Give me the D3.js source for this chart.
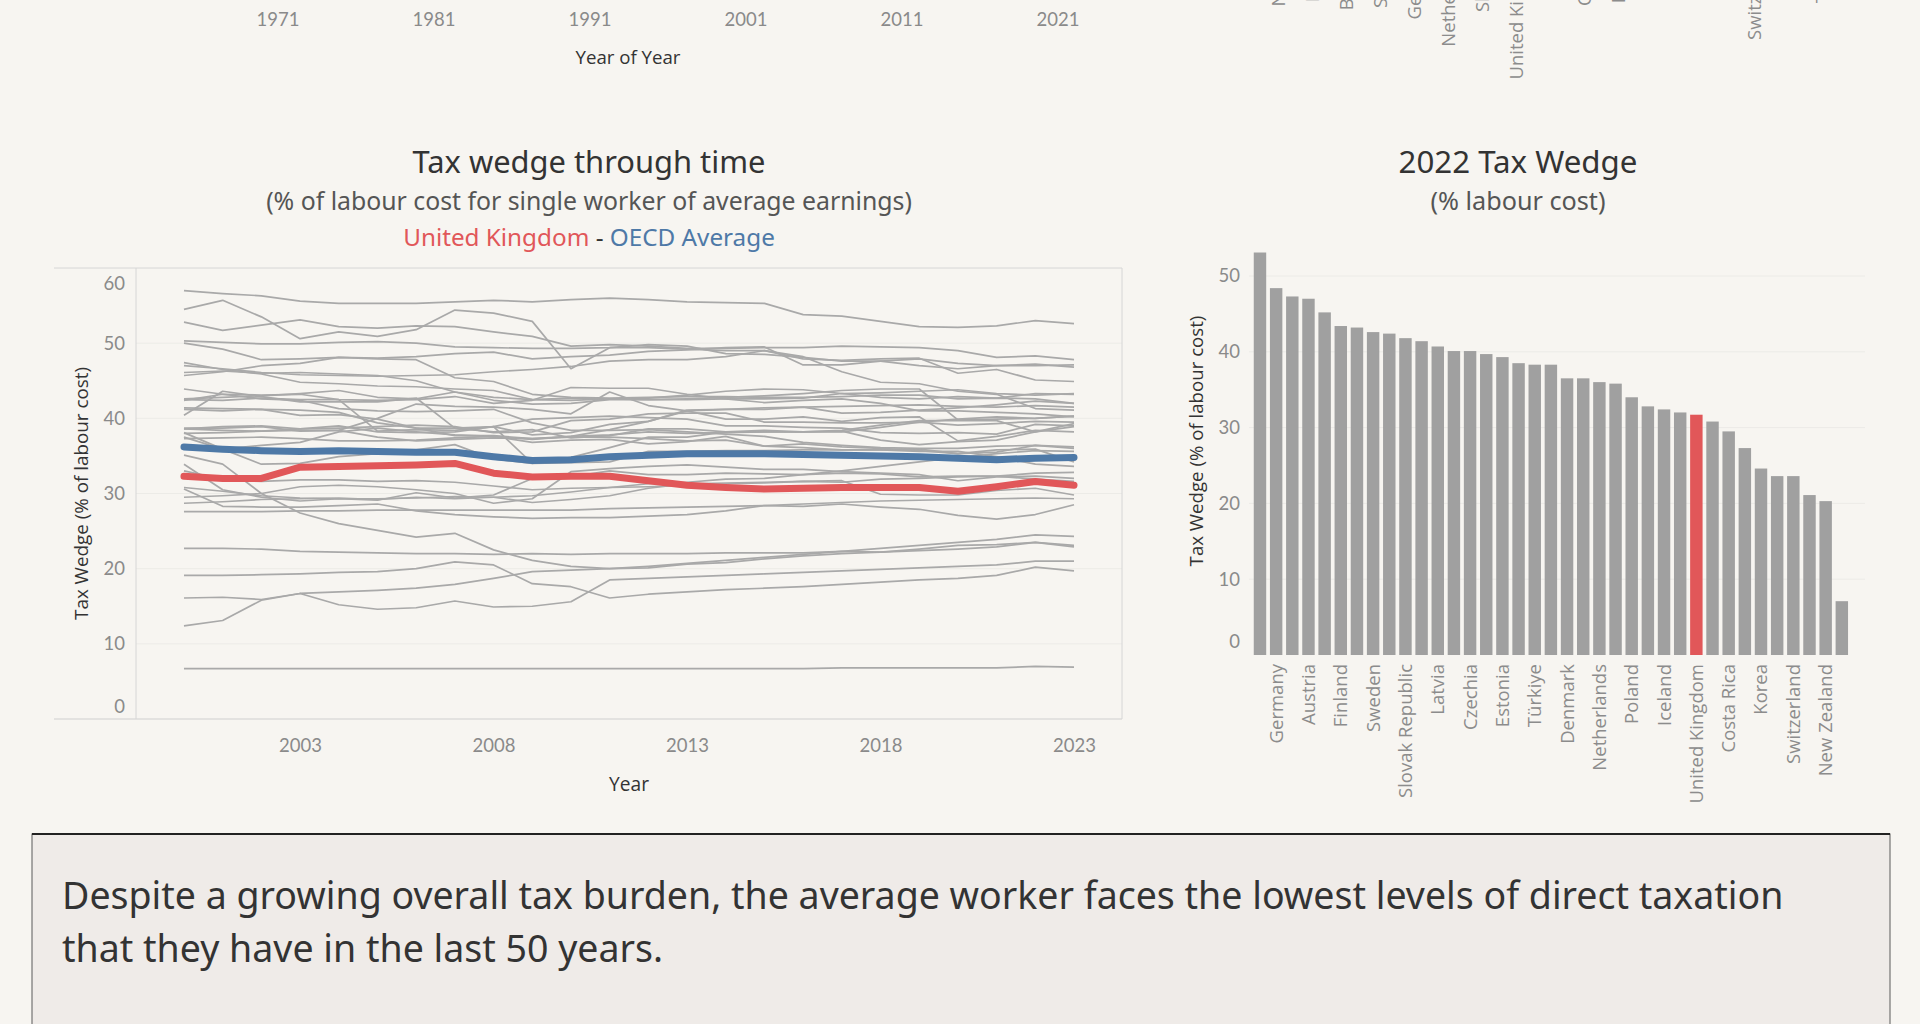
<!DOCTYPE html>
<html><head><meta charset="utf-8">
<script src="https://cdn.jsdelivr.net/npm/d3@7/dist/d3.min.js"></script>
<style>
html,body{margin:0;padding:0;background:#f7f5f1;}
svg{display:block;}
</style></head>
<body>
<svg id="c" width="1920" height="1024"></svg>
<script>
// ---------------- DATA ----------------
const years = [2000,2001,2002,2003,2004,2005,2006,2007,2008,2009,2010,2011,2012,2013,2014,2015,2016,2017,2018,2019,2020,2021,2022,2023];
const yearTicks = [2003,2008,2013,2018,2023];
const valueTicks = [0,10,20,30,40,50,60];
const barTicks = [0,10,20,30,40,50];

const ukSeries = [32.3,32.0,32.0,33.5,33.6,33.7,33.8,34.0,32.7,32.2,32.3,32.3,31.7,31.1,30.8,30.6,30.7,30.8,30.8,30.8,30.3,30.9,31.6,31.1];
const oecdSeries = [36.2,35.9,35.7,35.6,35.7,35.6,35.5,35.5,34.9,34.4,34.5,34.9,35.1,35.3,35.3,35.3,35.2,35.1,35.0,34.9,34.7,34.5,34.7,34.8];

const greyCountries = ["Belgium","Hungary","Germany","France","Sweden","Austria","Italy","Finland","Slovenia","Denmark","Slovak Republic","Latvia","Czechia","Estonia","Lithuania","Türkiye","Spain","Greece","Norway","Netherlands","Poland","Portugal","Luxembourg","Japan","Israel","Ireland","Canada","United States","Australia","Iceland","Costa Rica","Switzerland","Korea","Mexico","New Zealand","Chile"];
const greySeries = [
 [57.0,56.6,56.3,55.6,55.3,55.3,55.3,55.5,55.7,55.5,55.8,56.0,55.8,55.5,55.4,55.3,53.8,53.6,52.9,52.2,52.1,52.3,53.0,52.6],
 [54.5,55.7,53.5,50.6,51.5,50.9,51.8,54.4,54.0,52.9,46.6,49.4,49.4,49.2,49.0,49.0,48.2,46.2,44.8,44.6,43.6,43.2,41.3,41.1],
 [52.8,51.7,52.4,53.1,52.2,52.0,52.3,52.2,51.5,50.9,49.6,49.8,49.6,49.3,49.3,49.4,49.4,49.6,49.5,49.4,49.0,48.1,48.3,47.8],
 [50.3,50.1,49.9,49.9,50.1,50.2,50.0,49.5,49.4,49.3,49.3,49.4,49.8,49.6,48.6,48.5,48.1,47.6,47.6,47.0,46.6,47.0,47.2,46.8],
 [50.0,49.2,47.8,47.9,48.1,47.9,47.8,45.4,44.9,43.2,42.8,42.7,42.8,42.9,42.9,42.8,42.8,42.9,43.1,43.1,42.6,42.7,42.6,42.0],
 [45.7,46.2,47.0,47.3,48.1,48.0,48.2,48.6,48.8,47.9,48.2,48.4,48.9,49.1,49.4,49.5,47.1,47.1,47.6,47.9,47.3,47.0,47.0,47.1],
 [47.0,46.6,46.1,45.8,45.7,45.6,45.7,45.8,46.2,46.5,46.9,47.6,47.8,47.8,48.2,49.0,47.9,47.7,47.9,48.0,46.0,46.5,45.1,44.9],
 [47.4,46.5,45.9,44.8,44.6,44.3,44.2,43.9,43.7,42.5,42.4,42.6,42.7,43.1,43.6,43.9,43.8,43.3,42.8,42.6,42.9,42.7,43.3,43.2],
 [46.1,46.3,46.0,46.1,45.9,45.7,45.0,43.5,42.8,42.5,42.7,42.6,42.5,42.5,42.6,42.6,42.7,43.3,43.4,43.6,43.8,43.3,43.1,43.3],
 [43.9,43.2,42.6,42.4,41.3,41.0,40.9,41.0,41.2,39.4,38.4,38.4,38.5,38.2,37.9,37.6,36.8,36.4,36.1,36.0,36.0,36.3,36.4,36.0],
 [42.5,42.4,42.7,42.5,42.5,38.3,38.5,38.4,38.9,37.8,38.1,39.2,39.6,41.0,41.2,41.4,41.5,41.6,41.7,41.8,41.6,41.5,41.7,41.5],
 [42.4,43.2,43.1,43.2,42.5,42.4,42.5,42.9,42.0,42.4,44.1,44.0,44.0,43.2,42.6,42.1,42.4,42.6,42.0,41.0,41.0,40.8,40.6,40.2],
 [42.6,42.8,43.0,43.3,43.7,42.8,42.6,43.5,42.4,41.9,42.0,42.5,42.5,42.6,42.8,43.0,43.3,43.7,43.9,43.9,39.8,39.9,40.0,40.3],
 [41.4,41.3,41.2,41.1,40.8,39.4,38.7,38.7,38.9,39.9,40.1,40.3,40.1,39.9,39.0,39.0,38.8,38.7,38.1,38.0,38.1,37.9,39.2,39.0],
 [41.2,41.0,41.2,40.4,40.5,39.9,38.7,37.7,37.7,37.3,37.6,37.8,38.2,38.0,38.1,38.2,38.2,38.3,37.1,36.5,36.9,37.1,38.2,38.9],
 [40.4,43.6,42.9,42.2,42.2,42.2,42.7,38.7,38.2,38.5,37.4,37.7,38.6,38.6,38.2,38.2,38.2,38.4,39.1,39.7,39.7,39.7,38.2,39.3],
 [38.6,38.9,39.0,38.6,38.7,38.9,39.1,38.9,38.1,38.2,39.7,39.9,40.6,40.7,40.7,39.5,39.5,39.4,39.4,39.5,39.1,39.3,39.6,39.5],
 [38.7,38.7,38.9,38.3,38.4,40.0,41.9,41.6,41.5,41.2,40.6,43.5,41.7,41.0,39.9,39.9,40.2,39.6,40.1,40.2,37.0,37.6,38.4,38.2],
 [38.6,38.4,38.3,38.4,38.4,37.5,37.0,37.2,37.4,37.3,37.5,37.5,37.3,37.0,37.1,36.3,36.1,35.8,35.8,35.9,35.3,35.5,36.4,36.2],
 [38.1,35.9,36.4,36.8,38.2,38.7,38.2,37.8,37.6,36.8,37.1,37.2,36.6,36.9,37.6,36.3,36.6,36.2,36.0,35.7,35.3,35.8,35.9,34.2],
 [38.0,38.1,38.3,38.6,39.0,38.2,38.1,38.2,38.9,34.0,34.1,34.2,35.6,35.6,35.7,35.7,35.8,35.8,35.8,35.6,35.6,34.9,33.9,33.6],
 [37.3,37.4,37.5,37.3,37.0,37.0,37.1,37.4,37.6,37.2,37.6,38.5,39.6,41.1,41.2,41.2,41.5,40.7,40.8,41.1,41.4,41.8,42.3,42.0],
 [37.5,35.9,33.9,34.0,34.9,35.3,35.8,36.5,34.6,34.0,34.8,36.1,37.5,37.5,38.2,38.4,38.2,38.2,38.8,39.5,39.9,40.2,40.0,40.3],
 [28.7,28.9,29.2,29.3,29.4,29.2,29.5,29.3,29.5,29.7,30.2,30.8,31.3,31.5,31.9,32.0,32.5,33.0,33.6,34.2,34.8,35.3,35.7,35.6],
 [35.1,33.9,30.0,27.4,26.0,25.1,24.2,24.7,22.5,21.1,20.3,20.0,20.1,20.6,20.8,21.3,21.7,22.0,22.2,22.4,22.6,22.9,23.5,23.1],
 [33.9,30.5,29.5,29.0,29.3,29.1,30.1,29.4,29.8,32.0,32.2,33.0,32.5,32.5,32.7,32.6,32.5,32.7,32.6,32.2,32.3,32.3,31.9,31.6],
 [33.0,31.9,31.6,31.8,31.8,31.6,31.7,31.5,31.0,30.5,30.7,30.8,30.9,31.1,31.3,31.4,31.6,31.5,31.9,32.0,32.2,32.3,32.7,32.8],
 [30.8,30.3,29.7,29.4,29.3,29.3,29.4,29.6,29.5,28.8,29.2,29.7,30.7,31.3,31.4,31.5,31.6,31.7,29.9,29.8,29.8,30.4,30.7,29.8],
 [30.6,28.3,28.2,28.2,28.4,28.6,27.7,27.2,26.9,26.7,26.8,26.8,27.0,27.2,27.7,28.4,28.3,28.6,28.2,27.9,27.1,26.6,27.2,28.5],
 [29.5,29.7,30.0,30.9,31.1,30.9,30.5,30.0,28.7,29.3,32.9,33.3,33.6,33.8,33.5,33.2,33.2,32.9,32.7,32.5,31.7,32.2,32.3,32.0],
 [27.6,27.6,27.6,27.7,27.7,27.8,27.8,27.8,27.8,27.8,27.8,28.0,28.1,28.2,28.3,28.4,28.6,28.8,29.0,29.1,29.2,29.3,29.4,29.3],
 [22.7,22.7,22.6,22.3,22.2,22.1,22.0,22.0,21.9,22.0,21.9,22.0,22.0,22.0,22.1,22.1,22.1,22.3,22.2,22.6,23.1,23.2,23.5,22.9],
 [12.4,13.1,15.8,16.7,16.9,17.1,17.4,17.9,18.7,19.6,19.8,20.0,20.3,20.7,21.1,21.5,21.9,22.3,22.7,23.1,23.5,23.9,24.5,24.3],
 [16.1,16.2,15.9,16.7,15.2,14.6,14.8,15.7,14.9,15.0,15.6,18.5,18.7,18.9,19.1,19.3,19.5,19.7,19.9,20.1,20.3,20.5,21.0,21.0],
 [19.1,19.1,19.2,19.3,19.5,19.6,20.0,20.9,20.5,18.0,17.6,16.1,16.6,16.9,17.2,17.4,17.6,17.9,18.2,18.5,18.7,19.1,20.2,19.7],
 [6.7,6.7,6.7,6.7,6.7,6.7,6.7,6.7,6.7,6.7,6.7,6.7,6.7,6.7,6.7,6.7,6.7,6.8,6.8,6.8,6.8,6.8,7.0,6.9]
];

const barCountries = ["Belgium","Germany","France","Austria","Italy","Finland","Slovenia","Sweden","Portugal","Slovak Republic","Hungary","Latvia","Luxembourg","Czechia","Spain","Estonia","Greece","Türkiye","Lithuania","Denmark","Norway","Netherlands","Japan","Poland","Canada","Iceland","Ireland","United Kingdom","United States","Costa Rica","Australia","Korea","Israel","Switzerland","Mexico","New Zealand","Chile"];
const barValues = [53.1,48.4,47.3,47.0,45.2,43.4,43.2,42.6,42.4,41.8,41.4,40.7,40.1,40.1,39.7,39.3,38.5,38.3,38.3,36.5,36.5,36.0,35.8,34.0,32.8,32.4,32.0,31.7,30.8,29.5,27.3,24.6,23.6,23.6,21.1,20.3,7.1];
const highlight = "United Kingdom";

// remnants of the chart above (clipped at the top of the view)
const prevYearTicks = [1971,1981,1991,2001,2011,2021];
const prevCountries = ["Norway","Iceland","Belgium","Sweden","Germany","Netherlands","Slovenia","United Kingdom","Italy","Czechia","Finland","Spain","Korea","Chile","Switzerland","Japan","Türkiye"];

const COL_RED = "#e15759", COL_BLUE = "#4e79a7", COL_GREY = "#a9a9a9";
const FONT = "'Noto Sans', 'Open Sans', sans-serif";
const TICKFONT = "Lato, 'Open Sans', sans-serif";
const LABFONT = "'Open Sans', 'Noto Sans', sans-serif";

// ---------------- DRAW ----------------
const svg = d3.select("#c");
svg.append("rect").attr("width",1920).attr("height",1024).attr("fill","#f7f5f1");

function fit(sel, target){
  const w = sel.node().getComputedTextLength();
  const fs = parseFloat(sel.attr("font-size"));
  if (w>0) sel.attr("font-size", (fs*target/w).toFixed(2));
  return sel;
}

// --- remnants of upper dashboard row ---
const xPrev = d3.scaleLinear().domain([1971,2021]).range([278,1058]);
svg.append("g").selectAll("text").data(prevYearTicks).join("text")
  .attr("x", d=>xPrev(d)).attr("y", 26).attr("text-anchor","middle")
  .attr("font-family",TICKFONT).attr("font-size",18.5).attr("fill","#8a8a8a").text(d=>d);
fit(svg.append("text").attr("x",628).attr("y",64).attr("text-anchor","middle")
  .attr("font-family",LABFONT).attr("font-size",18).attr("font-weight",500).attr("fill","#333")
  .text("Year of Year"), 105);
const xPrevBand = d3.scalePoint().domain(prevCountries).range([1279,1823]);
svg.append("g").selectAll("text").data(prevCountries).join("text")
  .attr("transform", d=>`translate(${xPrevBand(d)},-60) rotate(-90)`)
  .attr("text-anchor","end").attr("dy","0.35em")
  .attr("font-family",LABFONT).attr("font-size",18.5).attr("fill","#8c8c8c").text(d=>d);

// --- Line chart ---
const L = {left:136, right:1122, top:268, bottom:719, outerLeft:54};
const x = d3.scaleLinear().domain([1998.76, 2024.24]).range([L.left, L.right]);
const y = d3.scaleLinear().domain([0,60]).range([L.bottom, L.top]);

const lc = svg.append("g");
lc.append("g").selectAll("line").data(valueTicks.filter(v=>v>0&&v<60)).join("line")
  .attr("x1",L.left).attr("x2",L.right).attr("y1",d=>y(d)).attr("y2",d=>y(d))
  .attr("stroke","#ecebe7").attr("stroke-width",1);
lc.append("line").attr("x1",L.outerLeft).attr("x2",L.right).attr("y1",L.top).attr("y2",L.top).attr("stroke","#d6d6d6");
lc.append("line").attr("x1",L.outerLeft).attr("x2",L.right).attr("y1",L.bottom).attr("y2",L.bottom).attr("stroke","#cfcfcf");
lc.append("line").attr("x1",L.right).attr("x2",L.right).attr("y1",L.top).attr("y2",L.bottom).attr("stroke","#d6d6d6");
lc.append("line").attr("x1",L.left).attr("x2",L.left).attr("y1",L.top).attr("y2",L.bottom).attr("stroke","#d6d6d6");

const line = d3.line().x((d,i)=>x(years[i])).y(d=>y(d));
lc.append("g").selectAll("path").data(greySeries).join("path")
  .attr("d", line).attr("fill","none").attr("stroke",COL_GREY).attr("stroke-width",1.7)
  .attr("stroke-linejoin","round");
lc.append("path").datum(ukSeries).attr("d",line).attr("fill","none").attr("stroke",COL_RED)
  .attr("stroke-width",7).attr("stroke-linejoin","round").attr("stroke-linecap","round");
lc.append("path").datum(oecdSeries).attr("d",line).attr("fill","none").attr("stroke",COL_BLUE)
  .attr("stroke-width",7).attr("stroke-linejoin","round").attr("stroke-linecap","round");

const yAx = lc.append("g").attr("transform",`translate(${L.left-11},0)`)
  .call(d3.axisLeft(y).tickValues(valueTicks).tickSize(0).tickPadding(0));
yAx.select(".domain").remove();
yAx.selectAll("text").attr("font-family",TICKFONT).attr("font-size",18.5).attr("fill","#8a8a8a")
  .attr("dy", d => d===60 ? "1.15em" : (d===0 ? "-0.35em" : "0.32em"));
const xAx = lc.append("g").attr("transform",`translate(0,${L.bottom+20})`)
  .call(d3.axisBottom(x).tickValues(yearTicks).tickFormat(d3.format("d")).tickSize(0).tickPadding(0));
xAx.select(".domain").remove();
xAx.selectAll("text").attr("font-family",TICKFONT).attr("font-size",18.5).attr("fill","#8a8a8a").attr("dy","0.71em");

fit(lc.append("text").attr("x",(L.left+L.right)/2).attr("y",791).attr("text-anchor","middle")
  .attr("font-family",LABFONT).attr("font-size",18).attr("font-weight",500).attr("fill","#333").text("Year"), 40);
fit(lc.append("text").attr("transform",`translate(81,${(L.top+L.bottom)/2}) rotate(-90)`)
  .attr("text-anchor","middle").attr("dy","0.35em")
  .attr("font-family",LABFONT).attr("font-size",18).attr("font-weight",500).attr("fill","#333")
  .text("Tax Wedge (% of labour cost)"), 253);

fit(svg.append("text").attr("x",589).attr("y",173).attr("text-anchor","middle")
  .attr("font-family",FONT).attr("font-size",28).attr("fill","#333").text("Tax wedge through time"), 353);
fit(svg.append("text").attr("x",589).attr("y",210).attr("text-anchor","middle")
  .attr("font-family",FONT).attr("font-size",24).attr("fill","#555")
  .text("(% of labour cost for single worker of average earnings)"), 646);
const leg = svg.append("text").attr("x",589).attr("y",246).attr("text-anchor","middle")
  .attr("font-family",FONT).attr("font-size",23);
leg.append("tspan").attr("fill",COL_RED).text("United Kingdom");
leg.append("tspan").attr("fill","#333").text(" - ");
leg.append("tspan").attr("fill",COL_BLUE).text("OECD Average");
fit(leg, 372);

// --- Bar chart ---
const B = {left:1249, right:1865, base:655};
const xb = d3.scaleBand().domain(barCountries).range([1251.9,1849.9]).paddingInner(0.23).paddingOuter(0.115);
const yb = d3.scaleLinear().domain([0,50]).range([B.base, 276]);
const bc = svg.append("g");
bc.append("g").selectAll("line").data(barTicks.filter(v=>v>0)).join("line")
  .attr("x1",B.left).attr("x2",B.right).attr("y1",d=>yb(d)).attr("y2",d=>yb(d))
  .attr("stroke","#ecebe7");
bc.append("g").selectAll("rect").data(barCountries).join("rect")
  .attr("x", d=>xb(d)).attr("width", xb.bandwidth())
  .attr("y", (d,i)=>yb(barValues[i])).attr("height",(d,i)=>B.base-yb(barValues[i]))
  .attr("fill", d=> d===highlight ? COL_RED : "#a0a0a0");
const ybAx = bc.append("g").attr("transform",`translate(${1240},0)`)
  .call(d3.axisLeft(yb).tickValues(barTicks).tickSize(0).tickPadding(0));
ybAx.select(".domain").remove();
ybAx.selectAll("text").attr("font-family",TICKFONT).attr("font-size",18.5).attr("fill","#8a8a8a")
  .attr("dy", d => d===0 ? "-0.4em" : "0.32em");
bc.append("g").selectAll("text").data(barCountries.filter((d,i)=>i%2===1)).join("text")
  .attr("transform", d=>`translate(${xb(d)+xb.bandwidth()/2},664) rotate(-90)`)
  .attr("text-anchor","end").attr("dy","0.35em")
  .attr("font-family",LABFONT).attr("font-size",18.5).attr("fill","#8c8c8c").text(d=>d);
fit(bc.append("text").attr("transform",`translate(1196,441) rotate(-90)`)
  .attr("text-anchor","middle").attr("dy","0.35em")
  .attr("font-family",LABFONT).attr("font-size",18).attr("font-weight",500).attr("fill","#333")
  .text("Tax Wedge (% of labour cost)"), 251);
fit(svg.append("text").attr("x",1518).attr("y",173).attr("text-anchor","middle")
  .attr("font-family",FONT).attr("font-size",28).attr("fill","#333").text("2022 Tax Wedge"), 239);
fit(svg.append("text").attr("x",1518).attr("y",210).attr("text-anchor","middle")
  .attr("font-family",FONT).attr("font-size",24).attr("fill","#555").text("(% labour cost)"), 175);

// --- Text box ---
svg.append("rect").attr("x",32).attr("y",834).attr("width",1858).attr("height",220)
  .attr("fill","#efebe8").attr("stroke","#5a5a5a").attr("stroke-width",1);
svg.append("line").attr("x1",32).attr("x2",1890).attr("y1",834).attr("y2",834).attr("stroke","#222").attr("stroke-width",2);
const t1 = svg.append("text").attr("x",62).attr("y",909).attr("font-family",FONT).attr("font-size",36).attr("fill","#333")
  .text("Despite a growing overall tax burden, the average worker faces the lowest levels of direct taxation");
fit(t1, 1722);
const fsBox = t1.attr("font-size");
svg.append("text").attr("x",62).attr("y",962).attr("font-family",FONT).attr("font-size",fsBox).attr("fill","#333")
  .text("that they have in the last 50 years.");
</script>
</body></html>
